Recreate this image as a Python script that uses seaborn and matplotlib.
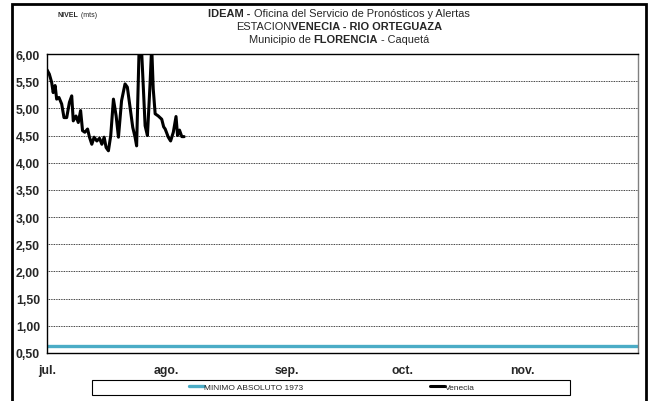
import numpy as np
import pandas as pd
import seaborn as sns
import matplotlib.pyplot as plt
import matplotlib.dates as mdates
from matplotlib.ticker import FuncFormatter
from matplotlib.patches import Rectangle

# datos (dias desde el 1 de julio, nivel en m)
dias = [0, 0.6, 1.2, 1.6, 2.1, 2.5, 3.1, 3.8, 4.4, 5.1, 5.8, 6.4, 6.8, 7.5, 8.1,
        8.7, 9.2, 9.8, 10.5, 11.0, 11.6, 12.2, 12.9, 13.6, 14.2, 14.8, 15.3, 15.9,
        16.5, 17.2, 17.9, 18.5, 19.3, 20.2, 20.8, 21.5, 22.2, 22.8, 23.2, 23.9,
        24.5, 25.4, 26.0, 26.7, 27.1, 27.5, 28.0, 28.8, 29.7, 30.2, 30.6, 31.4,
        32.0, 32.7, 33.4, 33.8, 34.3, 34.9, 35.5]
nivel_venecia = [5.71, 5.63, 5.48, 5.29, 5.42, 5.17, 5.20, 5.08, 4.83, 4.83, 5.11,
                 5.23, 4.77, 4.86, 4.74, 4.96, 4.59, 4.56, 4.62, 4.47, 4.34, 4.47,
                 4.40, 4.45, 4.34, 4.47, 4.28, 4.22, 4.50, 5.17, 4.86, 4.47, 5.14,
                 5.45, 5.39, 5.02, 4.65, 4.47, 4.31, 6.25, 6.05, 4.68, 4.50, 5.48,
                 6.15, 5.36, 4.90, 4.86, 4.80, 4.66, 4.62, 4.47, 4.40, 4.56, 4.85,
                 4.50, 4.60, 4.48, 4.48]
minimo_absoluto = 0.62
meses = ["jul.", "ago.", "sep.", "oct.", "nov."]

inicio = pd.Timestamp("2013-07-01")
fin = pd.Timestamp("2013-12-01")
fechas = inicio + pd.to_timedelta(dias, unit="D")
df_ven = pd.DataFrame({"fecha": fechas, "nivel": nivel_venecia})
df_min = pd.DataFrame({"fecha": [inicio, fin], "nivel": [minimo_absoluto] * 2})

sns.set_style("white")
fam = ["Liberation Sans Narrow", "Liberation Sans", "DejaVu Sans"]
plt.rcParams["font.family"] = fam

fig = plt.figure(figsize=(6.48, 4.02), dpi=100)
ax = fig.add_axes([47 / 648, 1 - 354 / 402, 591 / 648, 299 / 402])

sns.lineplot(data=df_min, x="fecha", y="nivel", ax=ax, color="#4BACC6",
             linewidth=2.4, label="MINIMO ABSOLUTO 1973")
sns.lineplot(data=df_ven, x="fecha", y="nivel", ax=ax, color="black",
             linewidth=2.2, label="Venecia")

ax.set_xlim(inicio, fin)
ax.set_ylim(0.5, 6.0)
ax.set_yticks(np.arange(0.5, 6.01, 0.5))
ax.yaxis.set_major_formatter(FuncFormatter(lambda v, p: f"{v:.2f}".replace(".", ",")))
ticks_mes = pd.date_range(inicio, periods=5, freq="MS")
ax.set_xticks(mdates.date2num(ticks_mes))
ax.set_xticklabels(meses)
ax.set_xlabel("")
ax.set_ylabel("")
ax.tick_params(axis="both", direction="out", length=3, width=0.8, color="black",
               labelsize=8.8, pad=2)
ax.tick_params(axis="x", pad=5)
for lab in ax.get_xticklabels() + ax.get_yticklabels():
    lab.set_fontweight("bold")
ax.grid(axis="y", linestyle=(0, (1, 1)), color="black", linewidth=0.6)
for s in ["left", "top", "bottom"]:
    ax.spines[s].set_color("black")
    ax.spines[s].set_linewidth(1.0)
ax.spines["right"].set_color("#808080")
ax.spines["right"].set_linewidth(1.0)

# leyenda
leg = ax.legend(loc="center", bbox_to_anchor=(332 / 648, 1 - 388 / 402),
                bbox_transform=fig.transFigure, ncol=2, frameon=False,
                fontsize=6, handlelength=1.8, handletextpad=0.0,
                columnspacing=15.3)
fig.patches.append(Rectangle((92 / 648, 1 - 396 / 402), 478 / 648, 15 / 402,
                             transform=fig.transFigure, fill=False,
                             edgecolor="black", linewidth=0.8))

# marco exterior
fig.patches.append(Rectangle((12 / 648, -0.05), 634 / 648, 1.05 - 5 / 402,
                             transform=fig.transFigure, fill=False,
                             edgecolor="black", linewidth=2.0))

# titulos con partes en negrita
fig.canvas.draw()
rend = fig.canvas.get_renderer()


def linea(y, partes, size, cx=None, x0=None):
    textos = [fig.text(0, y, s, fontsize=size, fontweight=w, va="baseline")
              for s, w in partes]
    anchos = [t.get_window_extent(rend).width for t in textos]
    x = x0 if x0 is not None else cx - sum(anchos) / 2
    for t, a in zip(textos, anchos):
        t.set_x(x / 648)
        x += a


linea(1 - 17 / 402, [("IDEAM -", "bold"),
                     (" Oficina del Servicio de Pronósticos y Alertas", "normal")], 7.9, cx=339)
linea(1 - 30 / 402, [("ESTACION", "normal"), ("VENECIA - RIO ORTEGUAZA", "bold")], 7.9, cx=339)
linea(1 - 43 / 402, [("Municipio de ", "normal"), ("FLORENCIA", "bold"),
                     (" - Caquetá", "normal")], 7.9, cx=339)
linea(1 - 17 / 402, [("NIVEL", "bold"), (" (mts)", "normal")], 5, x0=58)

fig.savefig("out.png", dpi=100)
